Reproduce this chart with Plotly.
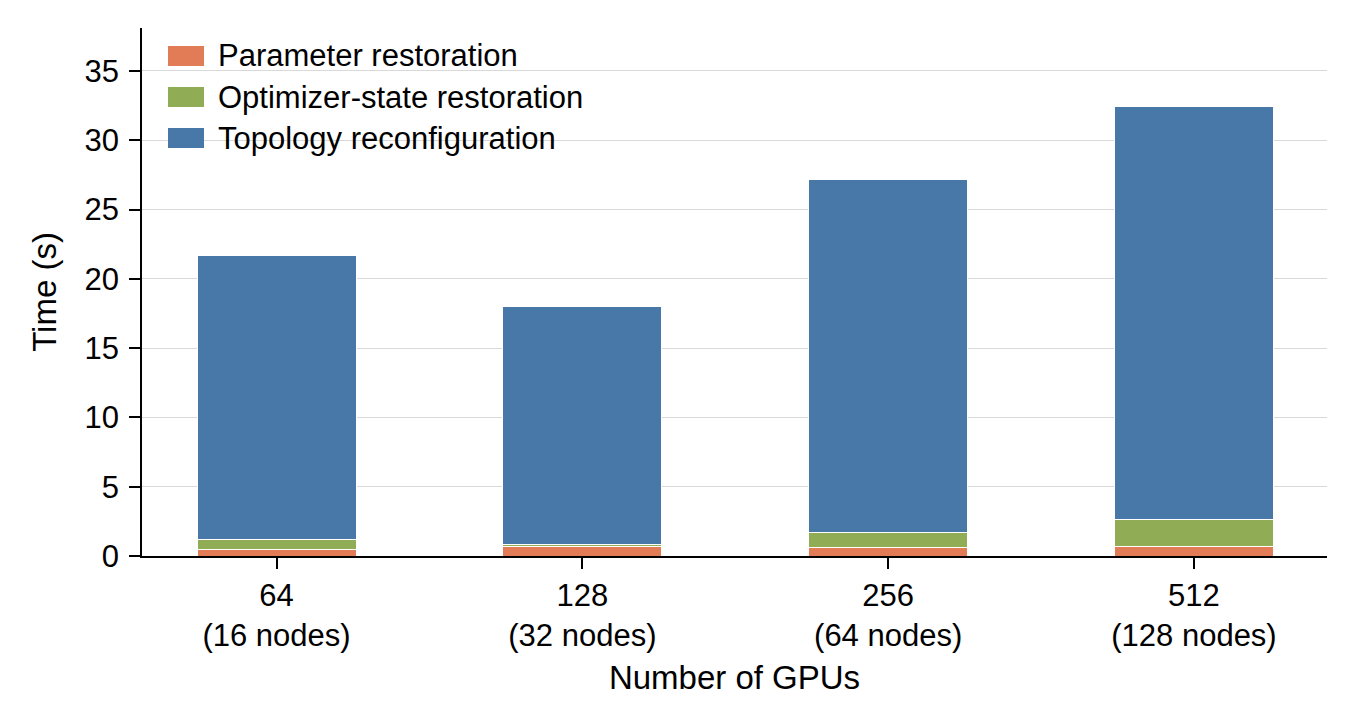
import plotly.graph_objects as go

categories = ["64<br>(16 nodes)", "128<br>(32 nodes)", "256<br>(64 nodes)", "512<br>(128 nodes)"]
series_names = ["Parameter restoration", "Optimizer-state restoration", "Topology reconfiguration"]
param_restore = [0.5, 0.65, 0.6, 0.65]
optim_restore = [0.7, 0.2, 1.1, 2.0]
topo_reconfig = [20.5, 17.15, 25.45, 29.8]
series_colors = ["#E17C56", "#90AD55", "#4878A8"]

W, H = 1356, 726
ML, MR, MT, MB = 142, 29, 28, 170
PW, PH = W - ML - MR, H - MT - MB

def px_x(p):
    return (p - ML) / PW

def px_y(p):
    return (H - MB - p) / PH

fig = go.Figure()
for name, vals, col in zip(series_names, [param_restore, optim_restore, topo_reconfig], series_colors):
    fig.add_trace(go.Bar(x=categories, y=vals, name=name, showlegend=False,
                         marker=dict(color=col, line=dict(color="white", width=1))))

# custom legend (rectangular swatches like the reference)
shapes, annotations = [], []
for i, (name, col) in enumerate(zip(series_names, series_colors)):
    cy = 56 + 41 * i
    shapes.append(dict(type="rect", xref="paper", yref="paper",
                       x0=px_x(168), x1=px_x(204), y0=px_y(cy + 10), y1=px_y(cy - 10),
                       fillcolor=col, line=dict(width=0)))
    annotations.append(dict(xref="paper", yref="paper", x=px_x(216), y=px_y(cy),
                            xanchor="left", yanchor="middle", text=name, showarrow=False,
                            font=dict(size=31, color="black")))

fig.update_layout(
    barmode="stack",
    bargap=0.48,
    width=W, height=H,
    margin=dict(l=ML, r=MR, t=MT, b=MB),
    plot_bgcolor="white", paper_bgcolor="white",
    showlegend=False,
    shapes=shapes, annotations=annotations,
    font=dict(family="Liberation Sans, Arial, sans-serif", size=31, color="black"),
    xaxis=dict(
        title=dict(text="Number of GPUs", font=dict(size=33), standoff=14),
        showline=True, linecolor="black", linewidth=1.5,
        ticks="outside", ticklen=11, tickcolor="black", tickwidth=1.5,
        range=[-0.44, 3.435], tickfont=dict(size=31),
    ),
    yaxis=dict(
        title=dict(text="Time (s)", font=dict(size=33), standoff=18),
        range=[0, 38.1], dtick=5,
        showline=True, linecolor="black", linewidth=1.5,
        ticks="outside", ticklen=11, tickcolor="black", tickwidth=1.5,
        ticklabelstandoff=4,
        showgrid=True, gridcolor="#D9D9D9", gridwidth=1,
        zeroline=False, tickfont=dict(size=31),
    ),
)

fig.write_html("out.html")
